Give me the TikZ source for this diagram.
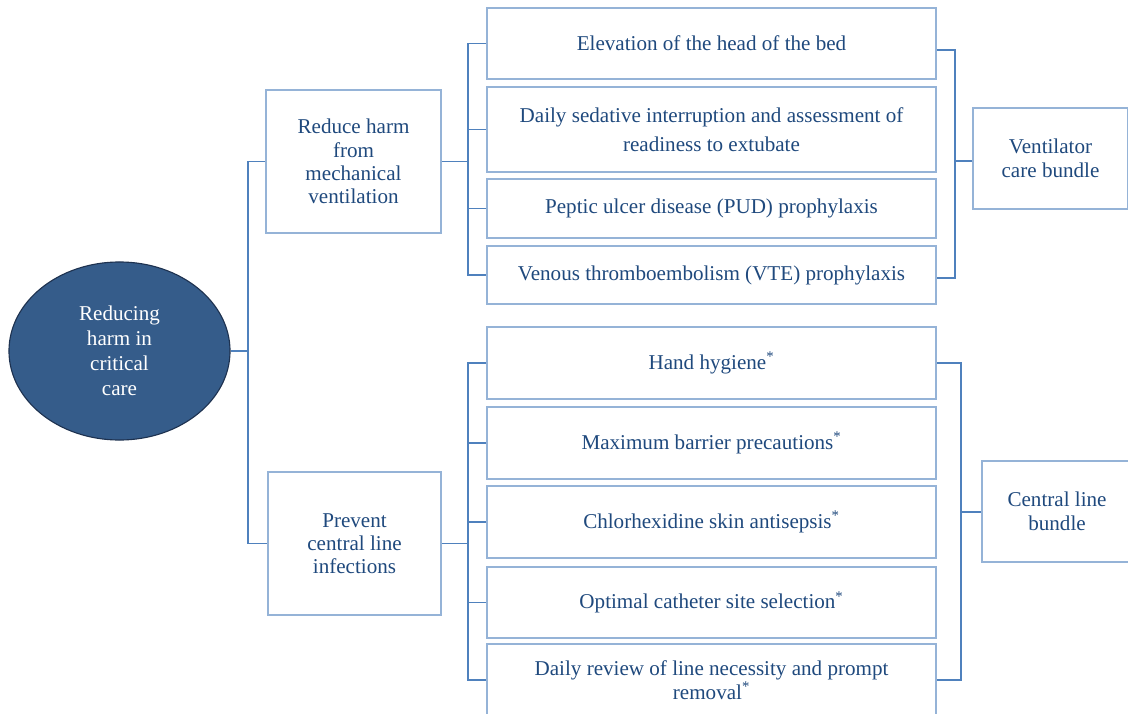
\documentclass[tikz,border=0pt]{standalone}
\usepackage{fontspec}
\setmainfont{Liberation Serif}
\usepackage{tikz}
\usetikzlibrary{positioning, calc, shapes}

\definecolor{boxblue}{RGB}{149,179,215}
\definecolor{linkblue}{RGB}{79,129,189}
\definecolor{textblue}{RGB}{31,73,125}
\definecolor{goalblue}{RGB}{53,92,138}
\definecolor{goaledge}{RGB}{30,50,80}

\begin{document}
\begin{tikzpicture}[x=0.025cm, y=-0.025cm,
    box/.style={draw=boxblue, line width=1.1pt, align=center, text=textblue,
        font=\fontsize{15}{17}\selectfont, inner sep=2pt},
    item/.style={box, minimum width=11.225cm},
    goal/.style={ellipse, draw=goaledge, fill=goalblue, line width=0.8pt, text=white,
        align=center, font=\fontsize{15}{17.7}\selectfont, inner sep=0pt,
        minimum width=5.525cm, minimum height=4.45cm},
    link/.style={draw=linkblue, line width=1.3pt}]

    \useasboundingbox (0,0) rectangle (1128,714);

    \node[goal] (goal) at (119.5,351) {Reducing\\harm in\\critical\\care};
    \node[box, minimum width=4.375cm, minimum height=3.575cm, font=\fontsize{15}{16.5}\selectfont] (vent) at (353.5,161.5) {Reduce harm\\from\\mechanical\\ventilation};
    \node[box, minimum width=4.325cm, minimum height=3.575cm, font=\fontsize{15}{16.5}\selectfont] (clabsi) at (354.5,543.5) {Prevent\\central line\\infections};

    % ventilator items
    \node[item, minimum height=1.775cm] (hob) at (711.5,43.5) {Elevation of the head of the bed};
    \node[item, minimum height=2.125cm, font=\fontsize{15}{20.5}\selectfont] (sedation) at (711.5,129.5) {Daily sedative interruption and assessment of\\readiness to extubate};
    \node[item, minimum height=1.475cm] (pud) at (711.5,208.5) {Peptic ulcer disease (PUD) prophylaxis};
    \node[item, minimum height=1.45cm] (vte) at (711.5,275) {Venous thromboembolism (VTE) prophylaxis};

    % central line items
    \node[item, minimum height=1.8cm] (hand) at (711.5,363) {Hand hygiene\textsuperscript{*}};
    \node[item, minimum height=1.8cm] (barrier) at (711.5,443) {Maximum barrier precautions\textsuperscript{*}};
    \node[item, minimum height=1.8cm] (chlor) at (711.5,522) {Chlorhexidine skin antisepsis\textsuperscript{*}};
    \node[item, minimum height=1.775cm] (site) at (711.5,602.5) {Optimal catheter site selection\textsuperscript{*}};
    \node[item, minimum height=1.8cm] (review) at (711.5,680) {Daily review of line necessity and prompt\\removal\textsuperscript{*}};

    \node[box, minimum width=3.875cm, minimum height=2.525cm] (ventbundle) at (1050.5,158.5) {Ventilator\\care bundle};
    \node[box, minimum width=3.75cm, minimum height=2.525cm] (clbundle) at (1057,511.5) {Central line\\bundle};

    \coordinate (trunk) at (248,351);
    \coordinate (vspine) at (468,161.5);
    \coordinate (cspine) at (468,543.5);
    \coordinate (vbrace) at (955,161);
    \coordinate (cbrace) at (961,512);

    \draw[link] (goal.east) -- (trunk);
    \draw[link] (vent.west) -| (trunk) |- (clabsi.west);

    \draw[link] (vent.east) -- (vspine);
    \draw[link] (hob.west) -| (vspine) |- (vte.west);
    \foreach \n in {sedation, pud}
        \draw[link] (\n.west) -- (\n.west -| vspine);

    \draw[link] (clabsi.east) -- (cspine);
    \draw[link] (hand.west) -| (cspine) |- (review.west);
    \foreach \n in {barrier, chlor, site}
        \draw[link] (\n.west) -- (\n.west -| cspine);

    \draw[link] ($(hob.east)+(0,6.5)$) -| (vbrace) |- ($(vte.east)+(0,3)$);
    \draw[link] (vbrace) -- (vbrace -| ventbundle.west);
    \draw[link] (hand.east) -| (cbrace) |- (review.east);
    \draw[link] (cbrace) -- (cbrace -| clbundle.west);
\end{tikzpicture}
\end{document}
